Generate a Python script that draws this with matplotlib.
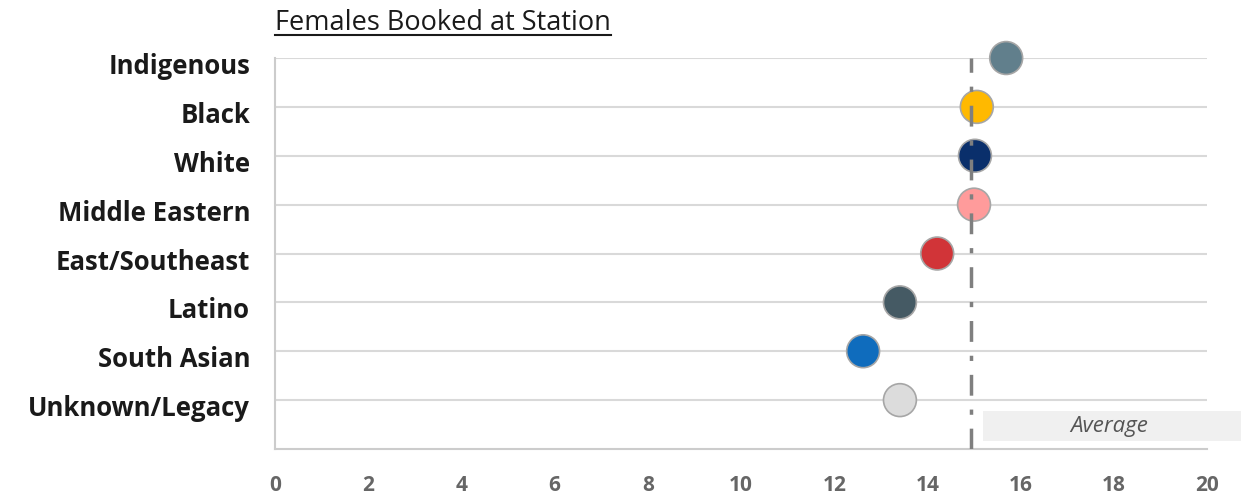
import matplotlib.pyplot as plt
import matplotlib.transforms as mtransforms
from matplotlib.lines import Line2D
from matplotlib.patches import Rectangle

categories = ["Indigenous", "Black", "White", "Middle Eastern",
              "East/Southeast", "Latino", "South Asian", "Unknown/Legacy"]
values = [15.69, 15.06, 15.02, 15.0, 14.21, 13.41, 12.62, 13.41]
colors = ["#617f8c", "#ffb900", "#0a2f6b", "#ff9b9b",
          "#d13438", "#455a64", "#0f6cbd", "#dcdcdc"]
average = 14.94
xticks = [0, 2, 4, 6, 8, 10, 12, 14, 16, 18, 20]

plt.rcParams['font.family'] = ['Open Sans', 'DejaVu Sans']

fig = plt.figure(figsize=(12.53, 4.98), dpi=100)
ax = fig.add_axes([0.2195, 0.0984, 0.9633 - 0.2195, 0.8835 - 0.0984])

ypos = list(range(len(categories)))

# horizontal gridlines per category
for y in ypos:
    ax.axhline(y, color="#d9d9d9", lw=1.5, zorder=0)

ax.scatter(values, ypos, s=560, c=colors, edgecolors="#a6a6a6",
           linewidths=1.2, zorder=3, clip_on=False)

# average reference line
ax.axvline(average, color="#7f7f7f", lw=2.5, linestyle=(0, (6, 4, 1.5, 4)),
           zorder=4)

# label box for the average line
ax.add_patch(Rectangle((15.19, 7.22), 5.55, 0.62, facecolor="#f0f0f0",
                       edgecolor="none", clip_on=False, zorder=1))
ax.text(17.9, 7.53, "Average", ha="center", va="center", fontsize=16,
        style="italic", color="#555555", zorder=2)

ax.set_xlim(0, 20)
ax.set_ylim(8, 0)
ax.set_xticks(xticks)
ax.set_xticklabels([str(t) for t in xticks], fontsize=15, fontweight="bold",
                   color="#666666")
ax.set_yticks(ypos)
ax.set_yticklabels(categories, fontsize=18.5, fontweight="bold", color="#1a1a1a")
ax.tick_params(axis="both", length=0)
ax.tick_params(axis="x", pad=19)
ax.tick_params(axis="y", pad=18)

# nudge category labels a little below their gridlines
shift = mtransforms.ScaledTranslation(0, -4 / 72, fig.dpi_scale_trans)
for lbl in ax.get_yticklabels():
    lbl.set_transform(lbl.get_transform() + shift)

for side in ["top", "right"]:
    ax.spines[side].set_visible(False)
for side in ["left", "bottom"]:
    ax.spines[side].set_color("#cccccc")
    ax.spines[side].set_linewidth(1.5)

# underlined title
title = fig.text(0.2195, 0.954, "Females Booked at Station", ha="left",
                 va="center", fontsize=19.5, color="#1a1a1a")
fig.canvas.draw()
bb = title.get_window_extent().transformed(fig.transFigure.inverted())
fig.add_artist(Line2D([bb.x0, bb.x1], [bb.y0 + 0.004, bb.y0 + 0.004],
                      color="#1a1a1a", lw=1.5, transform=fig.transFigure))

fig.savefig("out.png", dpi=100)
